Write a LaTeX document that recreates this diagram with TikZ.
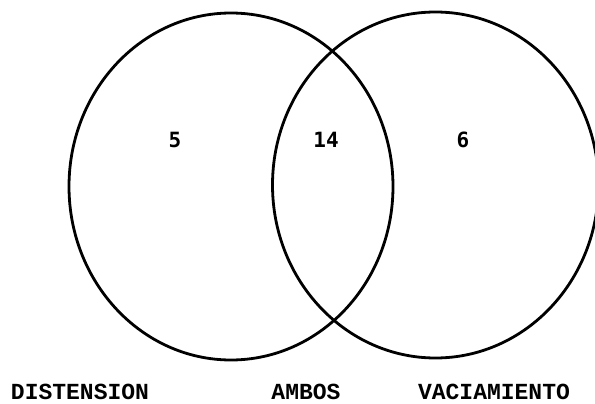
\documentclass[tikz,border=0pt]{standalone}
\usepackage{fontspec}
\setmonofont{Liberation Mono}
\newfontfamily\numfont{DejaVu Sans Mono}
\begin{document}
\begin{tikzpicture}[x=1pt,y=-1pt,
  setline/.style={line width=2.8pt,black},
  lbl/.style={font=\ttfamily\bfseries\fontsize{23}{23}\selectfont,inner sep=0pt,anchor=base},
  num/.style={font=\numfont\bfseries\fontsize{21}{21}\selectfont,inner sep=0pt}]
\useasboundingbox (0,0) rectangle (595,404);
\draw[setline] (231,186.5) ellipse [x radius=162, y radius=173.5];
\draw[setline] (435.5,185) ellipse [x radius=163, y radius=173];
\node[num] (n5) at (175,140) {5};
\node[num] (n14) at (326,140) {14};
\node[num] (n6) at (463,140) {6};
\node[lbl] (dist) at (80,399.5) {DISTENSION};
\node[lbl] (amb) at (306,399.5) {AMBOS};
\node[lbl] (vac) at (494,399.5) {VACIAMIENTO};
\end{tikzpicture}
\end{document}
